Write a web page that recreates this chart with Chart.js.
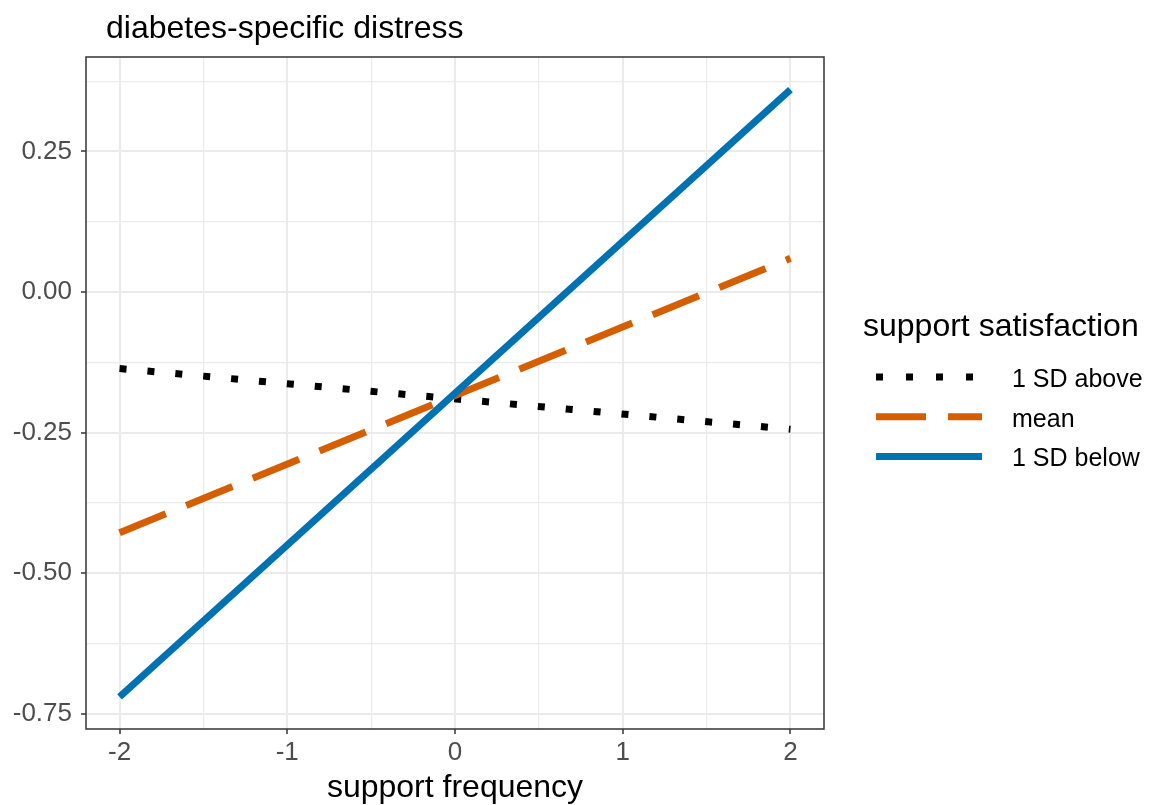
<!DOCTYPE html>
<html><head><meta charset="utf-8">
<script src="https://cdn.jsdelivr.net/npm/chart.js@4"></script>
<style>html,body{margin:0;padding:0;background:#fff}canvas{display:block}</style>
</head><body>
<canvas id="c" width="1150" height="805"></canvas>
<script>
// ---- data ----
const xValues = [-2, 2];
const aboveValues = [-0.136, -0.244];
const meanValues = [-0.428, 0.060];
const belowValues = [-0.720, 0.360];
const seriesLabels = ['1 SD above', 'mean', '1 SD below'];
const xTickValues = [-2, -1.5, -1, -0.5, 0, 0.5, 1, 1.5, 2];
const xTickLabels = {'-2': '-2', '-1': '-1', '0': '0', '1': '1', '2': '2'};
const yTickValues = [-0.75, -0.625, -0.5, -0.375, -0.25, -0.125, 0, 0.125, 0.25, 0.375];
const yTickLabels = {'-0.75': '-0.75', '-0.5': '-0.50', '-0.25': '-0.25', '0': '0.00', '0.25': '0.25'};
const chartTitle = 'diabetes-specific distress';
const xTitle = 'support frequency';
const legendTitle = 'support satisfaction';

const FONT = "'Liberation Sans', Arial, sans-serif";
const GRID = '#EBEBEB';
const DARK = '#333333';

function pts(ys) { return xValues.map((x, i) => ({x: x, y: ys[i]})); }

const isMajorX = v => xTickLabels[String(v)] !== undefined;
const isMajorY = v => yTickLabels[String(v)] !== undefined;

const datasets = [
  {label: seriesLabels[0], data: pts(aboveValues), borderColor: '#000000', borderWidth: 7,
   borderDash: [7, 21], legendDash: [7, 23], order: 3},
  {label: seriesLabels[1], data: pts(meanValues), borderColor: '#D55E00', borderWidth: 7,
   borderDash: [50, 22], legendDash: [50, 22], order: 2},
  {label: seriesLabels[2], data: pts(belowValues), borderColor: '#0072B2', borderWidth: 7,
   borderDash: [], legendDash: [], order: 1}
];
datasets.forEach(d => { d.pointRadius = 0; d.tension = 0; d.borderCapStyle = 'butt'; d.fill = false; });

const decor = {
  id: 'decor',
  afterDraw(chart) {
    const ctx = chart.ctx, a = chart.chartArea;
    ctx.save();
    // panel border
    ctx.strokeStyle = DARK; ctx.lineWidth = 1.5;
    ctx.strokeRect(a.left, a.top, a.right - a.left, a.bottom - a.top);
    // title
    ctx.fillStyle = '#000';
    ctx.textBaseline = 'alphabetic'; ctx.textAlign = 'left';
    ctx.font = '32px ' + FONT;
    ctx.fillText(chartTitle, 106, 38);
    // legend
    ctx.fillText(legendTitle, 863, 336);
    ctx.font = '25px ' + FONT;
    chart.data.datasets.forEach((d, i) => {
      const y = 377 + i * 39.7;
      ctx.beginPath();
      ctx.setLineDash(d.legendDash);
      ctx.lineCap = 'butt';
      ctx.strokeStyle = d.borderColor; ctx.lineWidth = d.borderWidth;
      ctx.moveTo(876, y); ctx.lineTo(982, y); ctx.stroke();
      ctx.setLineDash([]);
      ctx.fillStyle = '#000';
      ctx.fillText(d.label, 1012, y + 10);
    });
    ctx.restore();
  }
};

new Chart(document.getElementById('c'), {
  type: 'line',
  data: {datasets: datasets},
  plugins: [decor],
  options: {
    responsive: false, animation: false,
    layout: {padding: {top: 57, right: 326, left: 0, bottom: 0}},
    plugins: {legend: {display: false}, tooltip: {enabled: false}, title: {display: false}},
    scales: {
      x: {
        type: 'linear', min: -2.2, max: 2.2,
        afterBuildTicks: s => { s.ticks = xTickValues.map(v => ({value: v})); },
        afterFit: s => { s.height = 76; },
        border: {display: false},
        grid: {
          color: GRID,
          lineWidth: c => (c.tick && isMajorX(c.tick.value)) ? 2 : 1.2,
          tickLength: 5,
          tickColor: c => (c.tick && isMajorX(c.tick.value)) ? DARK : 'rgba(0,0,0,0)',
          tickWidth: 1.5
        },
        ticks: {
          autoSkip: false, maxRotation: 0, padding: 3,
          color: '#4D4D4D', font: {family: FONT, size: 26},
          callback: v => xTickLabels[String(v)] || ''
        },
        title: {display: true, text: xTitle, color: '#000', font: {family: FONT, size: 32, lineHeight: 1.05},
                padding: {top: 0, bottom: 0}}
      },
      y: {
        type: 'linear', min: -0.777, max: 0.418,
        afterBuildTicks: s => { s.ticks = yTickValues.map(v => ({value: v})); },
        afterFit: s => { s.width = 86; },
        border: {display: false},
        grid: {
          color: GRID,
          lineWidth: c => (c.tick && isMajorY(c.tick.value)) ? 2 : 1.2,
          tickLength: 5,
          tickColor: c => (c.tick && isMajorY(c.tick.value)) ? DARK : 'rgba(0,0,0,0)',
          tickWidth: 1.5
        },
        ticks: {
          autoSkip: false, padding: 9,
          color: '#4D4D4D', font: {family: FONT, size: 26},
          callback: v => yTickLabels[String(v)] || ''
        }
      }
    }
  }
});
</script>
</body></html>
